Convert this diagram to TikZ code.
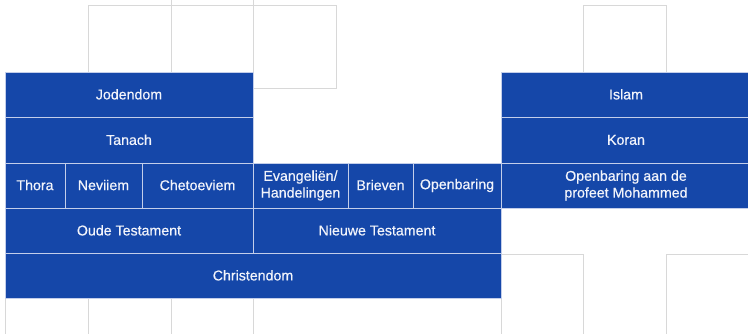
\documentclass[tikz,border=0pt]{standalone}
\usepackage{fontspec}
\setmainfont{Liberation Sans}
\newfontfamily\cellfont[FakeBold=0.45]{Liberation Sans}
\definecolor{cellblue}{HTML}{1547A9}
\definecolor{cellline}{HTML}{C3CEEA}
\definecolor{gridgray}{HTML}{D8D8D8}
\definecolor{celltext}{HTML}{F2F4FB}
\newcommand\cs{\rule[-1pt]{0pt}{11pt}}
\newcommand\cell[6]{\node[cellbox, minimum width={(#4-#2)*1pt}, minimum height={(#5-#3)*1pt}] (#1) at ({(#2+#4)/2},{(#3+#5)/2}) {#6};}
\begin{document}
\begin{tikzpicture}[x=1pt,y=-1pt,
  cellbox/.style={draw=cellline, line width=0.8pt, fill=cellblue, text=celltext,
    font=\cellfont\fontsize{14.2}{16.8}\selectfont, align=center, inner sep=0pt, outer sep=0pt},
  gridline/.style={draw=gridgray, line width=0.9pt}]
\useasboundingbox (0,0) rectangle (748,333);
\clip (0,0) rectangle (748,333);
% background grid
\draw[gridline] (88,72) -- (88,5.7) -- (336,5.7) -- (336,88) -- (253,88);
\draw[gridline] (171,0) -- (171,72);
\draw[gridline] (253,0) -- (253,88);
\draw[gridline] (583,72) -- (583,5.7) -- (666,5.7) -- (666,72);
\draw[gridline] (5.5,298) -- (5.5,334);
\draw[gridline] (88,298) -- (88,334);
\draw[gridline] (171,298) -- (171,334);
\draw[gridline] (253,298) -- (253,334);
\draw[gridline] (501,334) -- (501,254) -- (583,254) -- (583,334);
\draw[gridline] (666,334) -- (666,254) -- (750,254);
% cells
\cell{jod}{5}{72}{253}{117.5}{\cs Jodendom}
\cell{tan}{5}{117.5}{253}{163}{\cs Tanach}
\cell{tho}{5}{163}{65}{208}{\cs Thora}
\cell{nev}{65}{163}{142}{208}{\cs Neviiem}
\cell{che}{142}{163}{253}{208}{\cs Chetoeviem}
\cell{eva}{253}{163}{348}{208}{\cs Evangeliën/\\\cs Handelingen}
\cell{bri}{348}{163}{413}{208}{\cs Brieven}
\cell{opb}{413}{163}{501}{208}{\cs Openbaring}
\cell{opm}{501}{163}{751}{208}{\cs Openbaring aan de\\\cs profeet Mohammed}
\cell{out}{5}{208}{253}{253.5}{\cs Oude Testament}
\cell{nie}{253}{208}{501}{253.5}{\cs Nieuwe Testament}
\cell{chr}{5}{253.5}{501}{298}{\cs Christendom}
\cell{isl}{501}{72}{751}{117.5}{\cs Islam}
\cell{kor}{501}{117.5}{751}{163}{\cs Koran}
\end{tikzpicture}
\end{document}
